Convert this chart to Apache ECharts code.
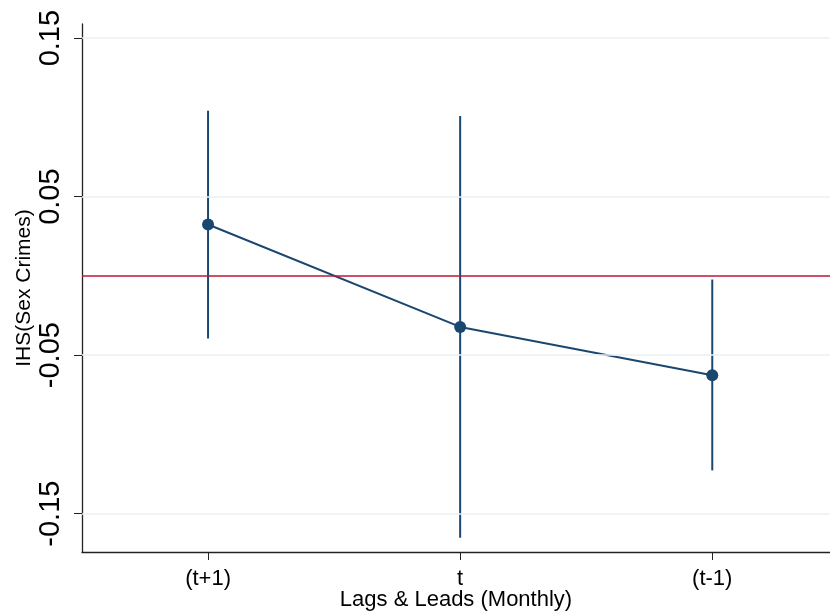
<!DOCTYPE html>
<html>
<head>
<meta charset="utf-8">
<script src="https://cdn.jsdelivr.net/npm/echarts@6/dist/echarts.min.js"></script>
<style>html,body{margin:0;padding:0;background:#fff}#c{width:830px;height:614px}</style>
</head>
<body>
<div id="c"></div>
<script>
var categories = ['(t+1)', 't', '(t-1)'];
var estimates = [0.0324, -0.0322, -0.0627];
var ciLow = [-0.0395, -0.1652, -0.1227];
var ciHigh = [0.1042, 0.1008, -0.0023];
var yTicks = [-0.15, -0.05, 0.05, 0.15];
var refLine = 0;

var navy = '#1a476f';
var font = 'Liberation Sans';
var chart = echarts.init(document.getElementById('c'));
var xIdx = categories.map(function (c, i) { return i; });
var errData = categories.map(function (c, i) { return [i, ciLow[i], ciHigh[i]]; });
var pointData = categories.map(function (c, i) { return [i, estimates[i]]; });

chart.setOption({
  animation: false,
  grid: { left: 82, right: 0, top: 24, bottom: 62, containLabel: false, outerBoundsMode: 'none' },
  xAxis: {
    type: 'value',
    min: -0.5,
    max: 2.467,
    name: 'Lags & Leads (Monthly)',
    nameLocation: 'middle',
    nameGap: 37,
    nameMoveOverlap: false,
    nameTextStyle: { fontFamily: font, fontSize: 22, color: '#000' },
    axisLine: { onZero: false, lineStyle: { color: '#222', width: 1.3 } },
    axisTick: { show: true, length: 8, customValues: xIdx, lineStyle: { color: '#222' } },
    axisLabel: {
      fontFamily: font, fontSize: 22, color: '#000', margin: 16,
      customValues: xIdx,
      formatter: function (v) { return categories[Math.round(v)]; }
    },
    splitLine: { show: false }
  },
  yAxis: {
    type: 'value',
    min: -0.1742,
    max: 0.1589,
    name: 'IHS(Sex Crimes)',
    nameLocation: 'middle',
    nameRotate: 90,
    nameGap: 47,
    nameMoveOverlap: false,
    nameTextStyle: { fontFamily: font, fontSize: 21, color: '#000' },
    axisLine: { show: true, onZero: false, lineStyle: { color: '#222', width: 1.3 } },
    axisTick: { show: true, length: 8, customValues: yTicks, lineStyle: { color: '#222' } },
    axisLabel: {
      fontFamily: font, fontSize: 29, color: '#000', rotate: 90, margin: 17,
      customValues: yTicks,
      formatter: function (v) { return v.toFixed(2); }
    },
    splitLine: { show: false }
  },
  series: [
    {
      type: 'line',
      data: [],
      silent: true,
      z: 1,
      markLine: {
        silent: true, symbol: 'none', label: { show: false },
        lineStyle: { color: '#eaf0f3', width: 1.5, type: 'solid' },
        data: yTicks.map(function (v) { return { yAxis: v }; })
      }
    },
    {
      type: 'line',
      data: [],
      silent: true,
      z: 2,
      markLine: {
        silent: true, symbol: 'none', label: { show: false },
        lineStyle: { color: '#c0163a', width: 1.6, type: 'solid' },
        data: [{ yAxis: refLine }]
      }
    },
    {
      type: 'custom',
      z: 3,
      data: errData,
      renderItem: function (params, api) {
        var p1 = api.coord([api.value(0), api.value(1)]);
        var p2 = api.coord([api.value(0), api.value(2)]);
        return {
          type: 'line',
          shape: { x1: p1[0], y1: p1[1], x2: p2[0], y2: p2[1] },
          style: { stroke: navy, lineWidth: 2 }
        };
      }
    },
    {
      type: 'line',
      z: 4,
      data: pointData,
      symbol: 'circle',
      symbolSize: 12,
      itemStyle: { color: navy },
      lineStyle: { color: navy, width: 2 }
    }
  ]
});
</script>
</body>
</html>
